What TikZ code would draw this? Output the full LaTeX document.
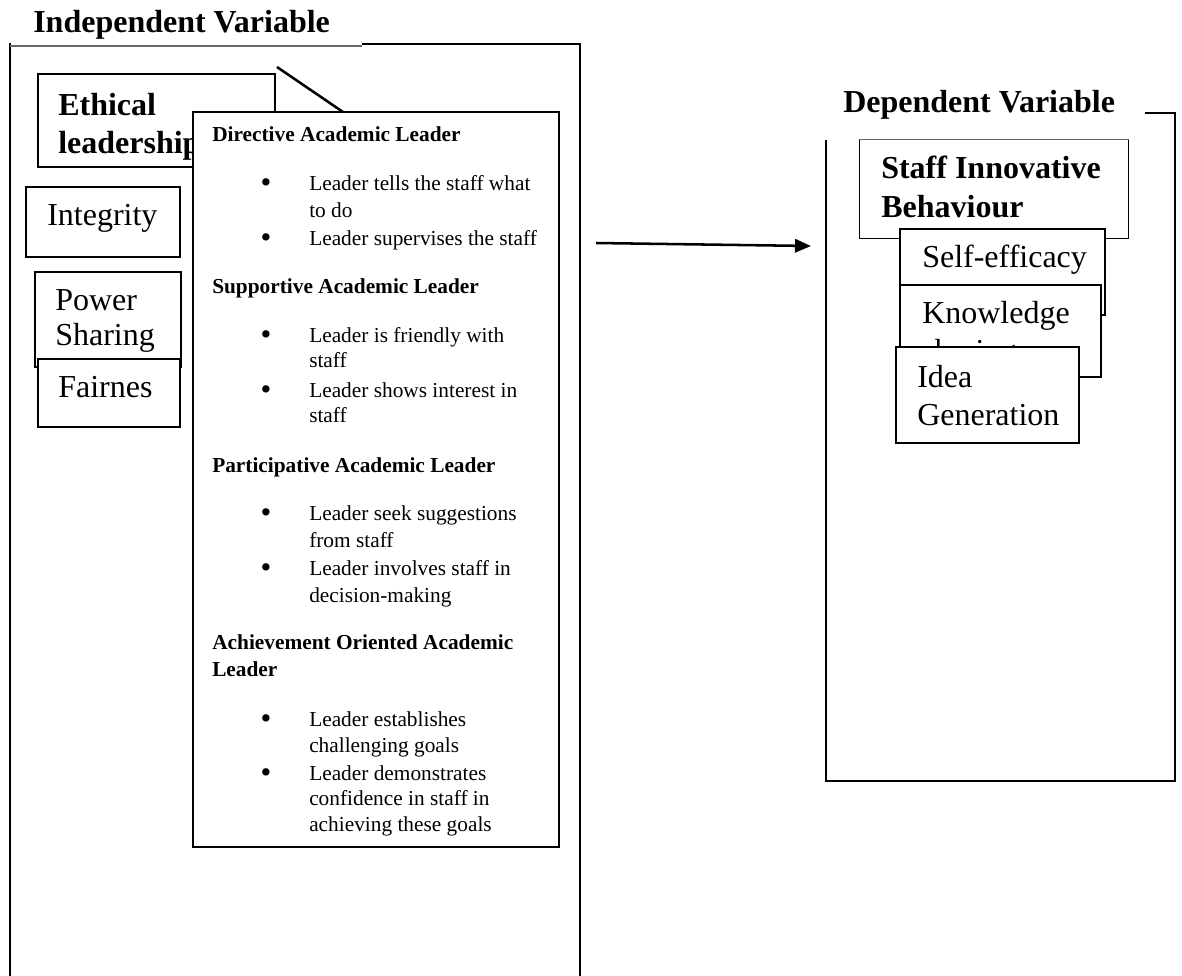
\documentclass[tikz,border=0pt]{standalone}
\usepackage{fontspec}
\setmainfont{Liberation Serif}
\usetikzlibrary{arrows.meta,fit}
\begin{document}
\begin{tikzpicture}[x=0.75pt,y=-0.75pt,
  box/.style={draw=black, line width=1.1pt, fill=white, rectangle, inner sep=0pt},
  big/.style={font=\fontsize{24}{28}\selectfont, anchor=base west, inner sep=0pt},
  bigb/.style={font=\fontsize{24}{28}\selectfont\bfseries, anchor=base west, inner sep=0pt},
  sm/.style={font=\fontsize{16}{19}\selectfont, anchor=base west, inner sep=0pt},
  smb/.style={font=\fontsize{16}{19}\selectfont\bfseries, anchor=base west, inner sep=0pt},
  bul/.style={font=\fontsize{23}{23}\selectfont, anchor=base, inner sep=0pt},
  frameline/.style={line width=2.2pt},
  thinline/.style={line width=0.9pt, draw=black!60},
  conn/.style={line width=1.9pt},
]
\useasboundingbox (0,0) rectangle (1182,975);

% ---------- left frame (independent variable)
\draw[frameline] (10,990) -- (10,43);
\draw[thinline] (10,46) -- (362,46);
\draw[frameline] (362,44) -- (580,44) -- (580,990);
\node[bigb] (indep) at (33,32) {Independent Variable};

% ---------- ethical leadership box
\node[box, fit={(38,74) (275,167)}] (eth) {};
\node[bigb] (ethA) at (58,115) {Ethical};
\node[bigb] (ethB) at (58,153) {leadership};

% diagonal connector
\coordinate (dgA) at (277,67);
\coordinate (dgB) at (343,112);
\draw[conn] (dgA) -- (dgB);

% ---------- middle box with leader styles
\node[box, fit={(193,112) (559,847)}] (mid) {};
\foreach \yy/\t in {141/Directive Academic Leader, 293/Supportive Academic Leader,
  472/Participative Academic Leader, 649/Achievement Oriented Academic, 676/Leader}
  {\node[smb] (h\yy) at (212,\yy) {\t};}
\foreach \yy/\t in {190/Leader tells the staff what, 245/Leader supervises the staff,
  342/Leader is friendly with, 397/Leader shows interest in,
  520/Leader seek suggestions, 575/Leader involves staff in,
  726/Leader establishes, 780/Leader demonstrates}
  {\node[bul] (dot\yy) at (266,\yy+2) {\textbullet};
   \node[sm] (l\yy) at (309,\yy) {\t};}
\foreach \yy/\t in {217/to do, 367/staff, 422/staff, 547/from staff, 602/decision-making,
  752/challenging goals, 805/confidence in staff in, 831/achieving these goals}
  {\node[sm] (c\yy) at (309,\yy) {\t};}

% ---------- dimension boxes
\node[box, fit={(26,187) (180,257)}] (integ) {};
\node[big] (integT) at (47,225) {Integrity};
\node[box, line width=2.2pt, fit={(35,272) (181,367)}] (power) {};
\node[big] (powerA) at (55,310) {Power};
\node[big] (powerB) at (55,345) {Sharing};
\node[box, fit={(38,359) (180,427)}] (fair) {};
\node[big] (fairT) at (58,397) {Fairnes};

% ---------- right frame (dependent variable)
\draw[frameline] (1145,113) -- (1175,113) -- (1175,781) -- (826,781) -- (826,140);
\node[bigb] (dep) at (843,112) {Dependent Variable};

\node[box, draw=none, fit={(860,140) (1128,238)}] (staff) {};
\draw[line width=1.1pt] (staff.north west) -- (staff.south west) -- (staff.south east) -- (staff.north east);
\draw[thinline, line width=0.7pt] (staff.north west) -- (staff.north east);
\node[bigb] (staffA) at (881,178) {Staff Innovative};
\node[bigb] (staffB) at (881,217) {Behaviour};

\node[box, fit={(900,229) (1105,315)}] (self) {};
\node[big] (selfT) at (922,267) {Self-efficacy};
\node[box, fit={(900,285) (1101,377)}] (know) {};
\node[big] (knowA) at (922,323) {Knowledge};
\node[big] (knowB) at (922,361) {sharing};
\node[box, fit={(896,347) (1079,443)}] (idea) {};
\node[big] (ideaA) at (917,387) {Idea};
\node[big] (ideaB) at (917,425) {Generation};

% ---------- main arrow
\coordinate (arS) at (596,243);
\coordinate (arE) at (811,246);
\draw[conn, -{Triangle[length=12pt,width=10pt]}] (arS) -- (arE);
\end{tikzpicture}
\end{document}
